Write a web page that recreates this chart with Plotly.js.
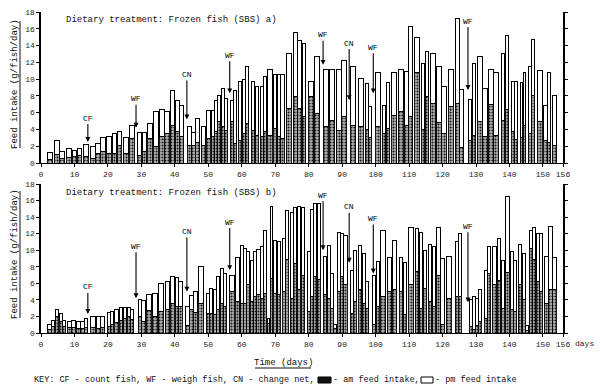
<!DOCTYPE html>
<html lang="en">
<head>
    <meta charset="UTF-8">
    <title>Feed intake - frozen fish (SBS)</title>
    <script src="https://cdn.plot.ly/plotly-3.0.1.min.js"></script>
    <style>
        body { margin: 0; background: #fff; }
        #chart { width: 600px; height: 390px; }
    </style>
</head>
<body>
    <div id="chart"></div>
    <script>
        // Panel a) - day of each bar, am and pm feed intake (g/fish/day)
        const daysA = [2.7, 4.7, 6.4, 8.4, 10.0, 11.5, 13.4, 15.6, 17.1, 18.6, 20.3, 22.0, 23.4, 25.3, 27.2,
            29.5, 30.9, 32.6, 34.4, 36.2, 37.7, 39.3, 40.7, 42.0, 44.4, 45.6, 46.9, 48.6, 50.1, 51.3,
            52.4, 53.3, 54.3, 55.3, 57.0, 58.0, 59.6, 60.6, 61.6, 63.5, 64.5, 66.0, 67.0, 68.5, 70.0,
            71.0, 72.3, 74.0, 76.0, 77.3, 78.6, 80.8, 82.4, 85.1, 87.0, 89.0, 90.6, 93.3, 95.6, 97.3,
            98.3, 100.8, 102.5, 103.7, 105.6, 107.5, 109.2, 110.5, 112.5, 114.2, 115.4, 117.2, 118.9, 120.5, 122.5,
            124.4, 125.7, 128.2, 129.4, 131.1, 132.8, 134.4, 136.1, 138.1, 139.3, 141.1, 142.1, 143.6, 144.5, 146.1,
            147.1, 149.0, 150.8, 151.9, 153.4];
        const amA = [0.4, 1.0, 0.55, 0.7, 0.8, 0.95, 0.75, 0.55, 1.1, 1.35, 1.15, 1.1, 2.1, 1.15, 2.9,
            0.95, 1.35, 2.9, 1.95, 3.1, 3.5, 4.5, 3.7, 3.2, 2.1, 2.1, 2.5, 2.1, 2.9, 3.1,
            3.7, 4.9, 4.4, 3.9, 4.9, 2.3, 2.7, 3.5, 4.7, 3.9, 3.3, 3.1, 3.7, 3.3, 4.1,
            3.1, 2.9, 6.5, 7.9, 6.5, 5.5, 7.9, 5.9, 4.3, 5.1, 3.9, 5.5, 4.5, 4.3, 4.0,
            3.0, 4.3, 3.5, 4.1, 5.7, 6.1, 4.5, 5.5, 10.8, 4.0, 7.9, 7.1, 4.8, 3.5, 6.7,
            7.1, 1.9, 2.7, 3.3, 4.9, 3.1, 7.0, 3.3, 5.1, 6.4, 3.8, 2.8, 3.0, 4.5, 3.5,
            8.1, 5.0, 2.7, 2.5, 2.1];
        const pmA = [0.9, 1.7, 0.8, 1.05, 0.75, 0.8, 1.4, 1.4, 1.2, 1.7, 2.05, 2.4, 1.7, 1.85, 1.6,
            2.65, 2.25, 1.8, 4.15, 3.3, 2.6, 4.2, 3.8, 3.6, 2.3, 1.5, 2.8, 2.3, 3.4, 3.1,
            3.7, 3.2, 4.5, 3.8, 2.6, 6.4, 7.0, 6.4, 6.8, 5.8, 5.8, 6.0, 6.6, 7.8, 6.4,
            7.4, 7.6, 6.6, 7.7, 8.1, 8.7, 1.8, 6.8, 6.9, 6.1, 7.3, 6.7, 7.0, 5.8, 5.5,
            3.7, 6.5, 3.4, 5.5, 5.1, 5.0, 6.4, 10.8, 4.2, 7.9, 5.4, 6.0, 6.7, 5.6, 4.5,
            10.1, 6.9, 4.9, 8.6, 7.8, 5.8, 4.2, 7.5, 7.9, 8.8, 5.9, 6.9, 6.6, 6.3, 8.0,
            6.6, 6.0, 4.2, 8.3, 6.0];

        // Panel b)
        const daysB = [2.5, 3.7, 4.7, 6.0, 7.0, 8.4, 9.7, 11.2, 12.4, 13.5, 15.6, 17.2, 18.5, 20.2, 21.2,
            22.6, 24.0, 25.1, 26.3, 27.3, 29.5, 30.6, 32.2, 34.0, 35.8, 37.8, 39.3, 40.6, 41.7, 43.8,
            45.0, 46.2, 47.9, 49.8, 50.8, 52.0, 53.0, 54.0, 55.0, 57.0, 58.8, 60.0, 61.0, 62.0, 63.0,
            64.0, 65.0, 66.0, 67.0, 68.0, 68.9, 70.0, 71.0, 72.6, 73.5, 75.0, 76.0, 77.0, 78.3, 80.0,
            81.0, 82.0, 83.0, 85.0, 86.0, 87.0, 88.0, 89.0, 90.0, 91.0, 92.8, 93.8, 95.4, 96.4, 97.5,
            99.6, 100.6, 102.3, 104.2, 105.7, 107.7, 108.7, 110.7, 112.4, 113.6, 114.8, 116.3, 117.3, 118.7, 120.1,
            121.8, 124.2, 125.2, 128.4, 129.3, 130.2, 131.1, 133.0, 134.0, 135.5, 137.0, 138.0, 139.3, 140.8, 141.7,
            143.1, 144.3, 145.3, 146.4, 147.4, 148.6, 149.5, 151.0, 152.3, 153.5];
        const amB = [0.45, 0.75, 2.0, 1.4, 0.75, 0.65, 0.7, 0.55, 0.55, 0.65, 0.7, 0.55, 0.7, 0.8, 1.0,
            1.3, 1.5, 1.8, 2.0, 1.6, 2.0, 1.4, 2.7, 2.0, 2.6, 2.8, 3.6, 3.2, 3.2, 0.9,
            2.8, 2.5, 3.6, 2.4, 2.4, 2.2, 2.8, 3.6, 3.2, 5.0, 3.8, 3.6, 3.6, 5.8, 3.8,
            4.4, 4.6, 4.2, 4.8, 1.2, 6.6, 4.8, 4.6, 5.0, 8.9, 4.2, 8.4, 5.2, 7.0, 2.6,
            4.4, 6.8, 6.5, 4.6, 4.2, 3.0, 0.6, 5.0, 6.8, 5.8, 2.4, 3.8, 5.2, 3.6, 3.0,
            1.0, 3.2, 4.4, 5.0, 5.2, 5.0, 2.2, 5.8, 7.4, 3.0, 5.4, 3.8, 3.2, 7.0, 1.0,
            4.2, 4.4, 4.4, 0.8, 0.4, 0.9, 1.4, 1.8, 7.2, 5.8, 6.4, 3.0, 7.3, 2.8, 2.6,
            5.8, 4.0, 0.3, 10.2, 8.9, 6.2, 5.0, 3.6, 5.2, 5.2];
        const pmB = [0.6, 0.8, 0.85, 1.0, 0.8, 0.7, 0.8, 0.8, 0.8, 1.1, 1.3, 1.45, 1.3, 1.65, 1.55,
            1.55, 1.6, 1.3, 1.1, 1.25, 2.1, 2.5, 1.9, 2.8, 3.4, 3.4, 3.2, 3.5, 3.0, 2.3,
            1.7, 2.5, 4.4, 2.4, 3.0, 3.0, 4.0, 4.2, 4.0, 2.0, 5.3, 7.0, 6.6, 4.0, 5.0,
            5.4, 5.5, 6.3, 7.6, 0.6, 8.7, 6.4, 6.4, 6.4, 5.9, 10.3, 6.8, 10.1, 8.2, 7.2,
            10.5, 8.9, 9.2, 4.6, 6.4, 4.2, 0.4, 7.2, 5.2, 6.0, 5.2, 6.2, 5.4, 6.0, 3.2,
            6.0, 5.4, 8.0, 4.1, 6.0, 4.1, 6.3, 7.0, 5.2, 9.1, 4.6, 6.9, 7.2, 5.8, 8.0,
            5.1, 6.7, 7.6, 3.2, 4.0, 3.3, 3.9, 5.8, 3.2, 4.6, 5.0, 5.8, 9.2, 7.0, 6.2,
            4.9, 5.6, 0.6, 2.2, 3.8, 5.8, 7.0, 5.6, 7.7, 3.9];

        // Husbandry events marked with arrows
        const eventLabels = ['CF', 'WF', 'CN', 'WF', 'WF', 'CN', 'WF', 'WF'];
        const eventDays = [14.0, 28.4, 43.6, 56.4, 84.3, 92.1, 99.3, 127.6];

        const tickDays = [0, 10, 20, 30, 40, 50, 60, 70, 80, 90, 100, 110, 120, 130, 140, 150, 156];
        const tickIntake = [0, 2, 4, 6, 8, 10, 12, 14, 16, 18];

        // where the arrow heads sit (intake units) and how far up the label is (px)
        const tipA = [2.5, 4.2, 5.2, 8.3, 11.7, 7.5, 8.3, 8.7];
        const liftA = [-24, -29, -45, -38, -30, -57, -46, -69];
        const tipB = [2.3, 4.2, 5.0, 7.6, 10.0, 8.5, 7.2, 3.7];
        const liftB = [-27, -52, -60, -48, -55, -56, -55, -76];

        const FONT = 'Liberation Mono, Courier New, monospace';
        const W = 600, H = 390, L = 41, R = 37, T = 12, B = 57;
        const px2x = p => (p - L) / (W - L - R);
        const py2y = p => (H - B - p) / (H - T - B);

        // bar width follows spacing to the neighbours
        function widths(d) {
            return d.map((v, i) => {
                const a = i > 0 ? v - d[i - 1] : 2;
                const b = i < d.length - 1 ? d[i + 1] - v : 2;
                return Math.max(0.8, Math.min(1.5, 0.9 * Math.min(a, b)));
            });
        }

        const amStyle = {
            color: '#8a8a8a',
            pattern: { shape: '.', fgcolor: '#1a1a1a', bgcolor: '#b4b4b4', size: 3, solidity: 0.4 },
            line: { color: '#000', width: 0.9 }
        };
        const pmStyle = { color: '#fff', line: { color: '#000', width: 1 } };

        function barPair(days, am, pm, xa, ya) {
            const w = widths(days);
            return [
                { type: 'bar', x: days, y: am, width: w, marker: amStyle, xaxis: xa, yaxis: ya,
                  name: 'am feed intake', hoverinfo: 'x+y' },
                { type: 'bar', x: days, y: pm, width: w, marker: pmStyle, xaxis: xa, yaxis: ya,
                  name: 'pm feed intake', hoverinfo: 'x+y' }
            ];
        }

        const traces = [].concat(
            barPair(daysA, amA, pmA, 'x', 'y'),
            barPair(daysB, amB, pmB, 'x2', 'y2')
        );

        const xBase = {
            range: [0, 156], tickvals: tickDays, ticks: 'outside', ticklen: 3, tickcolor: '#000',
            showline: true, linecolor: '#000', linewidth: 1, showgrid: false, zeroline: false,
            tickfont: { family: FONT, size: 8, color: '#222' }
        };
        const yBase = {
            range: [0, 18], tickvals: tickIntake, ticks: 'outside', ticklen: 3, tickcolor: '#000',
            showline: true, linecolor: '#000', linewidth: 1.6, mirror: 'ticks', showgrid: false,
            zeroline: false, tickfont: { family: FONT, size: 8, color: '#222' }
        };
        const topLow = py2y(163), botHigh = py2y(184);

        const annotations = [];
        function eventArrows(tips, lifts, xa, ya) {
            eventLabels.forEach((lab, i) => {
                annotations.push({
                    x: eventDays[i], y: tips[i], xref: xa, yref: ya, text: lab,
                    showarrow: true, arrowhead: 2, arrowsize: 0.9, arrowwidth: 1.1, arrowcolor: 'black',
                    ax: 0, ay: lifts[i], bgcolor: 'rgba(255,255,255,0)',
                    font: { family: FONT, size: 8, color: 'black' }
                });
            });
        }
        eventArrows(tipA, liftA, 'x', 'y');
        eventArrows(tipB, liftB, 'x2', 'y2');

        const small = { family: FONT, size: 8.5, color: '#111' };
        function note(text, px, py, opts) {
            annotations.push(Object.assign({
                text: text, xref: 'paper', yref: 'paper', x: px2x(px), y: py2y(py),
                xanchor: 'left', yanchor: 'middle', showarrow: false,
                font: { family: FONT, size: 9, color: '#111' }
            }, opts || {}));
        }
        note('Dietary treatment: Frozen fish (SBS) a)', 64, 20);
        note('Dietary treatment: Frozen fish (SBS) b)', 64, 193);
        note('Feed intake (g/fish/day)', 15, 84, { xanchor: 'center', textangle: -90 });
        note('Feed intake (g/fish/day)', 15, 254, { xanchor: 'center', textangle: -90 });
        note('Time (days)', 283, 363, { xanchor: 'center' });
        note('days', 573, 343, { font: { family: FONT, size: 8, color: '#222' } });
        note('KEY: CF - count fish, WF - weigh fish, CN - change net,', 32, 380, { font: small });
        note('- am feed intake,', 331, 380, { font: small });
        note('- pm feed intake', 433, 380, { font: small });

        const line = { color: '#111', width: 1 };
        const shapes = [
            // key swatches
            { type: 'rect', xref: 'paper', yref: 'paper', x0: px2x(318), x1: px2x(331), y0: py2y(383), y1: py2y(377),
              fillcolor: '#111', line: { color: '#000', width: 1 } },
            { type: 'rect', xref: 'paper', yref: 'paper', x0: px2x(421), x1: px2x(433), y0: py2y(383), y1: py2y(377),
              fillcolor: '#fff', line: { color: '#000', width: 1 } },
            // underlines of the axis titles
            { type: 'line', xref: 'paper', yref: 'paper', x0: px2x(20), x1: px2x(20), y0: py2y(148), y1: py2y(21), line: line },
            { type: 'line', xref: 'paper', yref: 'paper', x0: px2x(20), x1: px2x(20), y0: py2y(318), y1: py2y(191), line: line },
            { type: 'line', xref: 'paper', yref: 'paper', x0: px2x(255), x1: px2x(311), y0: py2y(368), y1: py2y(368), line: line }
        ];

        const layout = {
            width: W, height: H,
            margin: { l: L, r: R, t: T, b: B },
            paper_bgcolor: '#fff', plot_bgcolor: '#fff',
            barmode: 'stack', showlegend: false,
            xaxis: Object.assign({}, xBase, { anchor: 'y' }),
            yaxis: Object.assign({}, yBase, { domain: [topLow, 1], anchor: 'x' }),
            xaxis2: Object.assign({}, xBase, { anchor: 'y2' }),
            yaxis2: Object.assign({}, yBase, { domain: [0, botHigh], anchor: 'x2' }),
            annotations: annotations,
            shapes: shapes
        };

        Plotly.newPlot('chart', traces, layout, { displayModeBar: false, staticPlot: true });
    </script>
</body>
</html>
